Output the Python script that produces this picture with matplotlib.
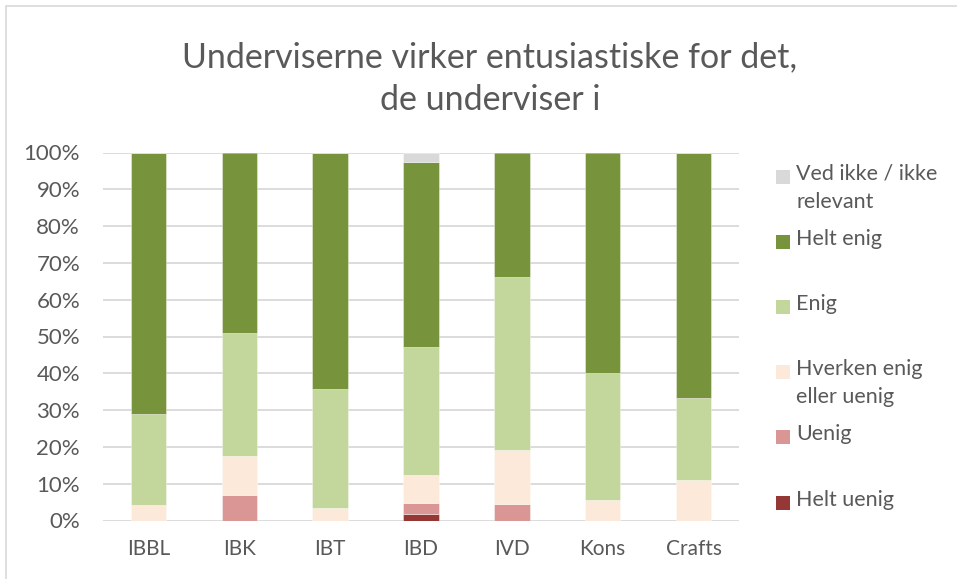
import numpy as np
import matplotlib
matplotlib.use("Agg")
import matplotlib.pyplot as plt
from matplotlib.patches import Rectangle

# Data (share of answers, %)
categories = ["IBBL", "IBK", "IBT", "IBD", "IVD", "Kons", "Crafts"]
helt_uenig = [0.0, 0.0, 0.0, 1.7, 0.0, 0.0, 0.0]
uenig = [0.0, 6.8, 0.0, 3.1, 4.6, 0.0, 0.0]
hverken = [4.2, 10.6, 3.5, 7.5, 14.6, 5.7, 11.1]
enig = [24.7, 33.5, 32.2, 34.9, 47.0, 34.3, 22.2]
helt_enig = [71.1, 49.1, 64.3, 50.2, 33.8, 60.0, 66.7]
ved_ikke = [0.0, 0.0, 0.0, 2.6, 0.0, 0.0, 0.0]

series = [
    ("Helt uenig", helt_uenig, "#953735"),
    ("Uenig", uenig, "#D99694"),
    ("Hverken enig\neller uenig", hverken, "#FDE9D9"),
    ("Enig", enig, "#C3D69B"),
    ("Helt enig", helt_enig, "#77933C"),
    ("Ved ikke / ikke\nrelevant", ved_ikke, "#D9D9D9"),
]

TITLE_1 = "Underviserne virker entusiastiske for det,"
TITLE_2 = "de underviser i"
TEXT_COLOR = "#595959"
GRID_COLOR = "#D9D9D9"
FONT = ["Lato", "DejaVu Sans"]

W, H = 957, 579
plt.rcParams["font.family"] = FONT

fig = plt.figure(figsize=(W / 100, H / 100), dpi=100)


def fx(px):
    return px / W


def fy(py):
    return 1 - py / H


# plot area in pixel coords of the reference
left, right, top, bottom = 103, 739, 152.5, 520.5
ax = fig.add_axes([fx(left), fy(bottom), fx(right - left), (bottom - top) / H])

x = np.arange(len(categories))
base = np.zeros(len(categories))
for name, vals, color in series:
    vals = np.array(vals)
    ax.bar(x, vals, width=0.39, bottom=base, color=color,
           edgecolor=(1, 1, 1, 0.45), linewidth=0.6, zorder=3)
    base += vals

ax.set_xlim(-0.5, len(categories) - 0.5)
ax.set_ylim(0, 100)
ax.set_yticks(np.arange(0, 101, 10))
ax.set_yticklabels([f"{v}%" for v in range(0, 101, 10)])
ax.set_xticks(x)
ax.set_xticklabels(categories)
ax.tick_params(axis="both", length=0, colors=TEXT_COLOR)
ax.tick_params(axis="y", pad=16.5, labelsize=16)
ax.tick_params(axis="x", pad=13, labelsize=15)
ax.yaxis.grid(True, color=GRID_COLOR, linewidth=1.3, zorder=0)
for s in ax.spines.values():
    s.set_visible(False)

# title, two centred lines
fig.text(fx(490), fy(57), TITLE_1, ha="center", va="center", fontsize=24.5,
         color=TEXT_COLOR)
fig.text(fx(490), fy(100), TITLE_2, ha="center", va="center", fontsize=24.5,
         color=TEXT_COLOR)

# legend, top entry first
leg_y = [177, 242, 307, 372, 437, 503]
for (name, vals, color), yy in zip(series[::-1], leg_y):
    fig.add_artist(Rectangle((fx(776), fy(yy + 7)), fx(14), 14 / H,
                             transform=fig.transFigure, facecolor=color,
                             edgecolor="none"))
    fig.text(fx(796), fy(yy - 13), name, ha="left", va="top", fontsize=15.5,
             color=TEXT_COLOR, linespacing=1.5)

# chart border
fig.add_artist(Rectangle((fx(5.5), -0.1), 1.1, fy(5.5) + 0.1,
                         transform=fig.transFigure, fill=False,
                         edgecolor=GRID_COLOR, linewidth=1.2))

fig.savefig("out.png", dpi=100)
